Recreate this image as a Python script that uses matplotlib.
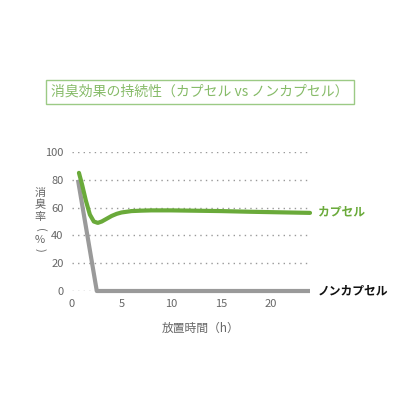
import matplotlib.pyplot as plt
import numpy as np

plt.rcParams['font.family'] = ['Noto Sans CJK JP', 'DejaVu Sans']

# 経過時間 (h) と消臭率 (%)
capsule_t = [0.7, 1.0, 1.4, 1.8, 2.2, 2.6, 3.0, 3.5, 4.0, 4.5, 5.0, 6.0, 7.0,
             8.0, 10.0, 12.0, 15.0, 18.0, 21.0, 24.0]
capsule_v = [85, 77, 65, 55, 50, 49, 50, 52, 54, 55.5, 56.5, 57.5, 57.8,
             58, 58, 57.8, 57.5, 57, 56.6, 56.2]
noncap_t = [0.6, 2.5, 24.0]
noncap_v = [80, 0, 0]
yticks = [0, 20, 40, 60, 80, 100]
xticks = [0, 5, 10, 15, 20]

green = '#6aaa3a'
gray = '#9a9a9a'
text_gray = '#666666'

fig = plt.figure(figsize=(4.16, 4.16), dpi=100)
ax = fig.add_axes([72 / 416, 125 / 416, 238 / 416, 139 / 416])

for y in yticks:
    ax.axhline(y, color='#999999', linewidth=1.0, linestyle=(0, (1, 3)), zorder=1)

ax.plot(noncap_t, noncap_v, color=gray, linewidth=3, clip_on=False, zorder=3,
        solid_capstyle='butt')
ax.plot(capsule_t, capsule_v, color=green, linewidth=3, clip_on=False, zorder=4,
        solid_capstyle='round')

ax.set_xlim(0, 24)
ax.set_ylim(0, 100)
ax.set_xticks(xticks)
ax.set_yticks(yticks)
ax.tick_params(length=0, labelsize=8, colors=text_gray, pad=6)
for s in ax.spines.values():
    s.set_visible(False)

ax.text(24.8, 57, 'カプセル', color=green, fontsize=8.5, fontweight='bold', va='center')
ax.text(24.8, 0, 'ノンカプセル', color='#111111', fontsize=8.5, fontweight='bold', va='center')

fig.text(162 / 416, 1 - 328 / 416, '放置時間（h）', color=text_gray, fontsize=8.5,
         ha='left', va='center')

# 縦書きのラベル
ylab = [('消', 193, 0), ('臭', 205, 0), ('率', 217, 0),
        ('(', 230, 270), ('%', 240, 0), (')', 250, 270)]
for ch, py, rot in ylab:
    fig.text(40 / 416, 1 - py / 416, ch, color=text_gray, fontsize=8,
             ha='center', va='center', rotation=rot)

fig.text(200 / 416, 1 - 92 / 416, '消臭効果の持続性（カプセル vs ノンカプセル）',
         color='#86bb68', fontsize=10, ha='center', va='center',
         bbox=dict(boxstyle='square,pad=0.35', facecolor='white',
                   edgecolor='#9cca85', linewidth=1))

fig.savefig('out.png', dpi=100)
